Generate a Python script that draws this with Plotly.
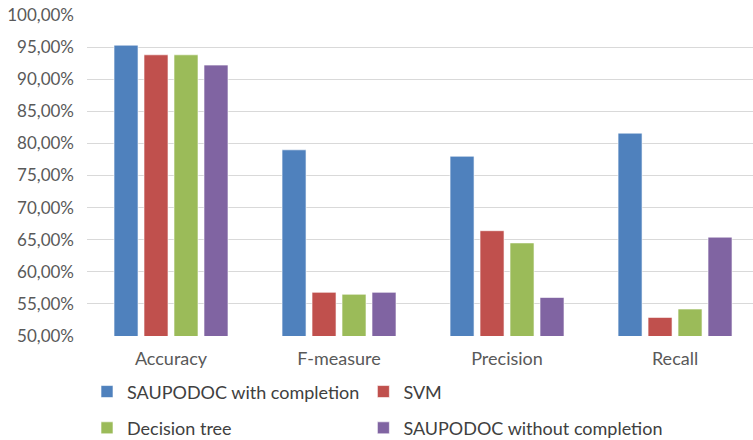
import plotly.graph_objects as go

# Evaluation metrics per method (percent)
categories = ["Accuracy", "F-measure", "Precision", "Recall"]
series_names = [
    "SAUPODOC with completion",
    "SVM",
    "Decision tree",
    "SAUPODOC without completion",
]
with_completion = [95.3, 79.0, 78.0, 81.6]
svm = [93.8, 56.8, 66.4, 52.9]
decision_tree = [93.8, 56.5, 64.5, 54.2]
without_completion = [92.2, 56.8, 56.0, 65.4]

tick_values = [50, 55, 60, 65, 70, 75, 80, 85, 90, 95, 100]
tick_labels = [f"{v},00%" for v in tick_values]

colors = ["#4F81BD", "#C0504D", "#9BBB59", "#8064A2"]
series_values = [with_completion, svm, decision_tree, without_completion]

# one legend box per entry so the entries sit in a 2x2 grid
legend_ids = ["legend", "legend2", "legend3", "legend4"]
legend_pos = [(0.0, -0.174), (0.415, -0.174), (0.0, -0.287), (0.415, -0.287)]

font_family = "Lato, 'Liberation Sans', sans-serif"
text_color = "#595959"

fig = go.Figure()
for name, vals, col, lg in zip(series_names, series_values, colors, legend_ids):
    fig.add_trace(go.Bar(
        x=categories,
        y=vals,
        name=name,
        marker=dict(color=col, line=dict(color="rgba(255,255,255,0.6)", width=1)),
        legend=lg,
    ))

legend_layout = {}
for lg, (lx, ly) in zip(legend_ids, legend_pos):
    legend_layout[lg] = dict(
        x=lx,
        y=ly,
        xanchor="left",
        yanchor="middle",
        orientation="h",
        font=dict(family=font_family, size=18, color="#404040"),
        bgcolor="rgba(0,0,0,0)",
        itemclick=False,
    )

fig.update_layout(
    width=753,
    height=440,
    margin=dict(l=87, r=0, t=15, b=104, autoexpand=False),
    paper_bgcolor="white",
    plot_bgcolor="white",
    barmode="group",
    bargap=0.286,
    bargroupgap=0.2,
    showlegend=True,
    font=dict(family=font_family, size=15, color=text_color),
    xaxis=dict(
        range=[-0.5, 3.464],
        showgrid=False,
        showline=False,
        ticks="",
        ticklabelstandoff=10,
        tickfont=dict(family=font_family, size=18, color=text_color),
    ),
    yaxis=dict(
        range=[50, 100],
        tickvals=tick_values,
        ticktext=tick_labels,
        showgrid=True,
        gridcolor="#D9D9D9",
        gridwidth=1,
        zeroline=False,
        showline=False,
        ticks="",
        ticklabelstandoff=12,
        tickfont=dict(family=font_family, size=17, color=text_color),
    ),
    **legend_layout,
)

fig.write_html("out.html")
